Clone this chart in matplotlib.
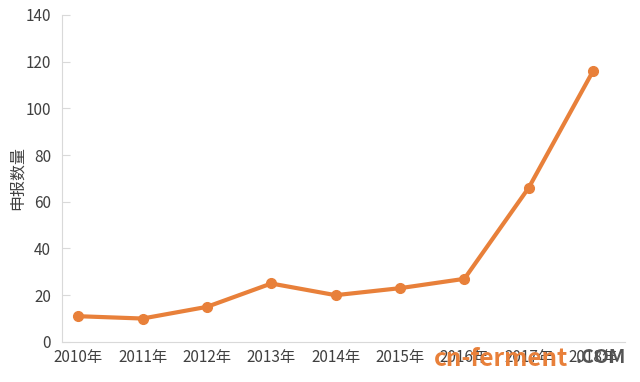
import matplotlib
matplotlib.use("Agg")
import matplotlib.pyplot as plt

plt.rcParams["font.family"] = ["Noto Sans CJK SC", "DejaVu Sans"]

years = ["2010年", "2011年", "2012年", "2013年", "2014年", "2015年", "2016年", "2017年", "2018年"]
counts = [11, 10, 15, 25, 20, 23, 27, 66, 116]

ORANGE = "#E8803A"
TEXT = "#404040"

fig = plt.figure(figsize=(6.4, 3.82), dpi=100)
ax = fig.add_axes([0.097, 0.105, 0.88, 0.856])

xs = range(len(years))
ax.plot(xs, counts, color=ORANGE, lw=3, marker="o", ms=7, solid_capstyle="round")

ax.set_xlim(-0.25, len(years) - 0.5)
ax.set_ylim(0, 140)
ax.set_yticks(range(0, 141, 20))
ax.set_xticks(list(xs))
ax.set_xticklabels(years)
ax.tick_params(axis="y", direction="in", length=6, color="#d9d9d9", labelsize=11, labelcolor=TEXT, pad=8)
ax.tick_params(axis="x", length=0, labelsize=11, labelcolor=TEXT, pad=5)
for s in ["top", "right"]:
    ax.spines[s].set_visible(False)
ax.spines["left"].set_color("#d9d9d9")
ax.spines["bottom"].set_color("#d9d9d9")
ax.set_ylabel("申报数量", color=TEXT, fontsize=11.5, labelpad=0)

# watermark
fig.text(0.678, 0.03, "cn-ferment", color=ORANGE, fontsize=17.5, fontweight="bold", va="bottom")
fig.text(0.9, 0.038, ".COM", color="#555555", fontsize=14, fontweight="bold", va="bottom")

fig.savefig("out.png", dpi=100)
